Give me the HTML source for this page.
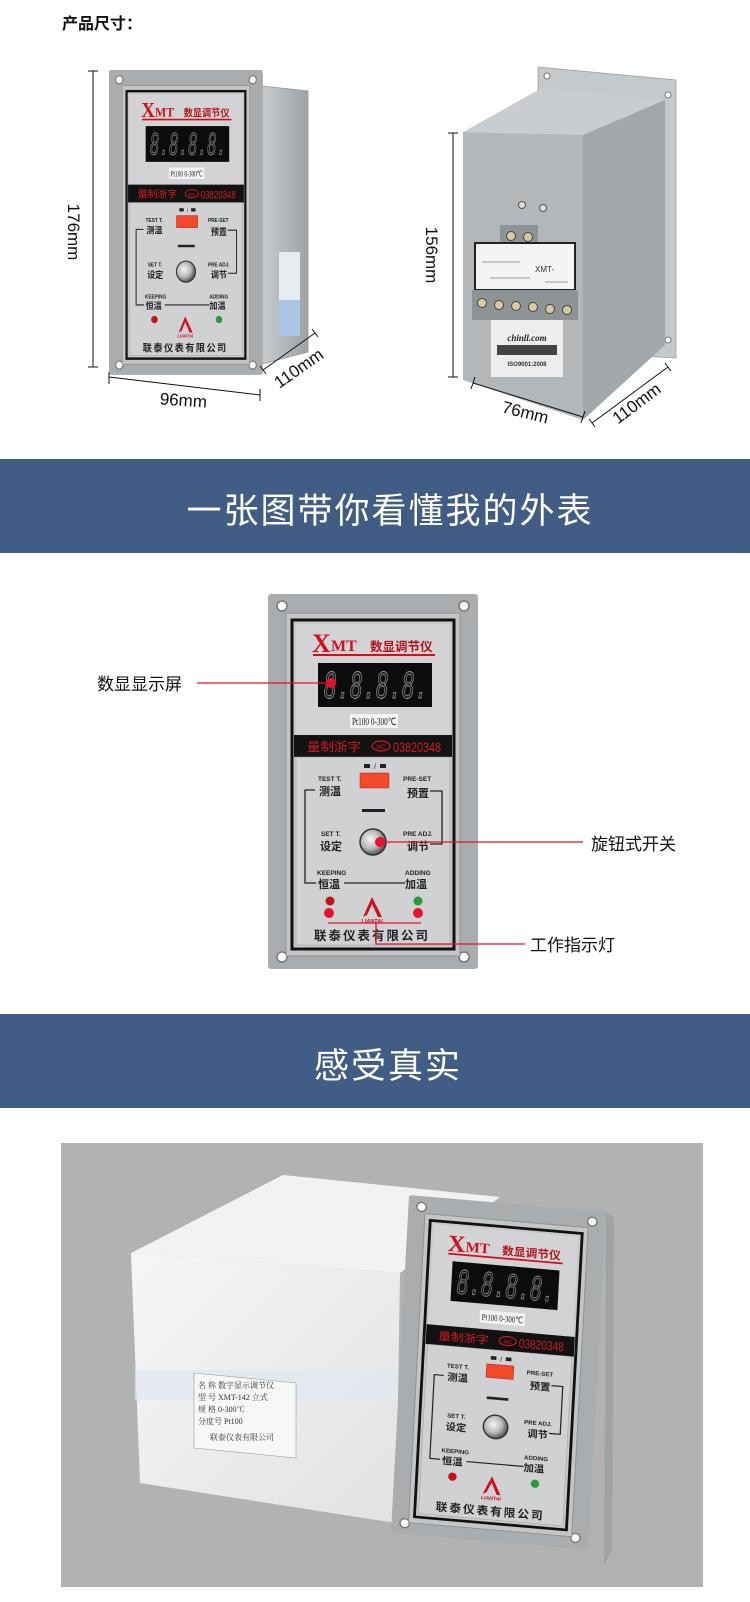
<!DOCTYPE html>
<html><head><meta charset="utf-8"><style>
html,body{margin:0;padding:0;background:#fff;}
svg{display:block;}
.cj{font-family:"Liberation Sans","Noto Sans CJK SC",sans-serif;}
</style></head><body>
<svg width="750" height="1602" viewBox="0 0 750 1602" xmlns="http://www.w3.org/2000/svg" class="cj">
<defs>
<radialGradient id="kn" cx="40%" cy="40%" r="60%"><stop offset="0" stop-color="#f4f4f4"/><stop offset="0.6" stop-color="#b8b8b8"/><stop offset="1" stop-color="#555"/></radialGradient>
<linearGradient id="sty" x1="0" y1="0" x2="1" y2="1"><stop offset="0" stop-color="#f6f6f6"/><stop offset="1" stop-color="#e2e2e2"/></linearGradient>
<linearGradient id="side" x1="0" y1="0" x2="1" y2="0"><stop offset="0" stop-color="#c9ccce"/><stop offset="1" stop-color="#9da2a5"/></linearGradient>
</defs>

<!-- header -->
<text x="62" y="29" font-size="16" font-weight="bold" fill="#111">产品尺寸：</text>

<!-- ===== LEFT DEVICE ===== -->
<polygon points="262,86 308,91 308,352 262,364" fill="url(#side)" stroke="#8f9497" stroke-width="0.8"/>
<rect x="279" y="252" width="21" height="84" fill="#e7ecf2"/>
<rect x="279" y="300" width="21" height="36" fill="#a9c6e6"/>
<g transform="translate(109,70) scale(0.733,0.813)">
<rect width="210" height="375" rx="3" fill="#a9adb0"/>
<circle cx="14" cy="12" r="5" fill="#fff" stroke="#777" stroke-width="1.5"/><circle cx="196" cy="12" r="5" fill="#fff" stroke="#777" stroke-width="1.5"/><circle cx="14" cy="363" r="5" fill="#fff" stroke="#777" stroke-width="1.5"/><circle cx="196" cy="363" r="5" fill="#fff" stroke="#777" stroke-width="1.5"/>
<rect x="18" y="19" width="174" height="343" fill="#c3c5c7" stroke="#8d9093"/>
<rect x="24" y="26" width="162" height="329" fill="#c8c9cb" stroke="#111" stroke-width="3"/>
<rect x="28" y="30" width="154" height="111" fill="#d3d3d5"/>
<text x="44" y="58" font-family="Liberation Serif,serif" font-size="26" font-weight="bold" fill="#d0101c">X</text>
<text x="63" y="57" font-family="Liberation Serif,serif" font-size="16" font-weight="bold" fill="#d0101c">MT</text>
<text x="102" y="57" font-size="12.5" font-weight="bold" fill="#b3121c">数显调节仪</text>
<line x1="45" y1="61" x2="167" y2="61" stroke="#d0101c" stroke-width="2"/>
<rect x="50" y="69" width="114" height="44" fill="#0c0c0c"/>
<text x="56" y="104" font-family="DejaVu Sans Mono,monospace" font-size="36" font-style="italic" fill="#1c1c1c" stroke="#9a9a9a" stroke-width="0.9" textLength="104" lengthAdjust="spacingAndGlyphs">8.8.8.8.</text>
<rect x="82" y="120" width="48" height="14" fill="#f4f4f4"/>
<text x="84" y="131" font-family="Liberation Serif,serif" font-size="10" fill="#222" textLength="44" lengthAdjust="spacingAndGlyphs">Pt100 0-300℃</text>
<rect x="26" y="141" width="158" height="22" fill="#121212"/>
<text x="39" y="157" font-size="12" fill="#d41a22" textLength="54" lengthAdjust="spacingAndGlyphs">量制浙字</text>
<ellipse cx="113" cy="152" rx="9" ry="5" fill="none" stroke="#d41a22" stroke-width="1.2"/>
<text x="113" y="155" font-size="6" fill="#d41a22" text-anchor="middle">MC</text>
<text x="125" y="158" font-size="14" fill="#d41a22" textLength="48" lengthAdjust="spacingAndGlyphs">03820348</text>
<rect x="28" y="163" width="154" height="188" fill="#d0d1d3" stroke="#999" stroke-width="0.5"/>
<rect x="96" y="170" width="6" height="4" fill="#222"/><text x="106" y="175" font-size="7" fill="#222">/</text><rect x="112" y="170" width="6" height="4" fill="#222"/>
<rect x="92" y="179" width="29" height="15" fill="#f3492b" stroke="#b02020" stroke-width="0.5"/>
<text x="50" y="187" font-size="6.5" font-weight="bold" fill="#222">TEST T.</text>
<text x="51" y="201" font-size="11" font-weight="bold" fill="#222">测温</text>
<text x="135" y="187" font-size="6.5" font-weight="bold" fill="#222">PRE-SET</text>
<text x="139" y="203" font-size="11" font-weight="bold" fill="#222">预置</text>
<path d="M47 196 H37 V289 H48 M162 197 H174 V250 H162 M76 289 H137" fill="none" stroke="#222" stroke-width="1.3"/>
<rect x="94" y="215" width="23" height="3" fill="#222"/>
<text x="53" y="242" font-size="6.5" font-weight="bold" fill="#222">SET T.</text>
<text x="52" y="256" font-size="11" font-weight="bold" fill="#222">设定</text>
<text x="135" y="242" font-size="6.5" font-weight="bold" fill="#222">PRE ADJ.</text>
<text x="139" y="256" font-size="11" font-weight="bold" fill="#222">调节</text>
<circle cx="105" cy="248" r="13" fill="url(#kn)" stroke="#333" stroke-width="1.5"/>
<text x="49" y="281" font-size="6.5" font-weight="bold" fill="#222">KEEPING</text>
<text x="50" y="294" font-size="11" font-weight="bold" fill="#222">恒温</text>
<text x="137" y="281" font-size="6.5" font-weight="bold" fill="#222">ADDING</text>
<text x="137" y="294" font-size="11" font-weight="bold" fill="#222">加温</text>
<circle cx="62" cy="307" r="4.5" fill="#c01515"/><circle cx="150" cy="307" r="4.5" fill="#2a9a3a"/>
<path d="M95 323 L104 303 L114 323 L110 323 L104 310 L99 321 Z" fill="#d0101c"/>
<text x="104" y="329" font-size="5.5" font-style="italic" font-weight="bold" fill="#d0101c" text-anchor="middle">LIANTAI</text>
<text x="104" y="346" font-size="12.5" font-weight="bold" fill="#222" text-anchor="middle" letter-spacing="2">联泰仪表有限公司</text>
</g>
<!-- left dims -->
<g stroke="#111" stroke-width="1" fill="none">
<path d="M93 71 V367 M88 71 H98 M88 367 H98"/>
<path d="M109 377 L260 395 M109 372 V384 M260 389 V401"/>
<path d="M263 370 L315 333 M260 366 L266 374 M312 329 L318 337"/>
</g>
<text transform="translate(68,232) rotate(90)" font-size="17" text-anchor="middle" fill="#111">176mm</text>
<text transform="translate(183,406) rotate(4)" font-size="17" text-anchor="middle" fill="#111">96mm</text>
<text transform="translate(302,373) rotate(-35)" font-size="17" text-anchor="middle" fill="#111">110mm</text>

<!-- ===== RIGHT DEVICE ===== -->
<polygon points="538,67 676,80 676,358 538,350" fill="#c6c9cb" stroke="#999" stroke-width="0.8"/>
<circle cx="547" cy="76" r="3" fill="#fff" stroke="#777"/><circle cx="668" cy="95" r="3" fill="#fff" stroke="#777"/><circle cx="668" cy="340" r="3" fill="#fff" stroke="#777"/>
<polygon points="463,132 542,88 665,100 583,135" fill="#c9cdcf"/>
<polygon points="583,135 665,100 665,345 583,420" fill="#a2a7aa"/>
<polygon points="463,132 583,135 583,420 463,380" fill="#b3b7ba"/>
<circle cx="522" cy="205" r="3.5" fill="#ddd" stroke="#555"/><circle cx="543" cy="208" r="3.5" fill="#ddd" stroke="#555"/>
<rect x="500" y="225" width="38" height="22" fill="#8e9396"/>
<circle cx="511" cy="236" r="4.5" fill="#d8c9a0" stroke="#444"/><circle cx="528" cy="237" r="4.5" fill="#d8c9a0" stroke="#444"/>
<rect x="475" y="243" width="100" height="47" fill="#f4f4f4" stroke="#222" stroke-width="2"/>
<text x="535" y="272" font-size="8" fill="#333">XMT-</text>
<path d="M482 262 H520 M490 278 H530 M545 282 H568" stroke="#777" stroke-width="0.7"/>
<rect x="472" y="290" width="106" height="30" fill="#8e9396"/>
<g fill="#d8c9a0" stroke="#444"><circle cx="482" cy="303" r="4.5"/><circle cx="499" cy="305" r="4.5"/><circle cx="516" cy="306" r="4.5"/><circle cx="533" cy="307" r="4.5"/><circle cx="550" cy="309" r="4.5"/><circle cx="567" cy="310" r="4.5"/></g>
<rect x="491" y="320" width="72" height="57" fill="#eeeeee"/>
<text x="527" y="341" font-family="Liberation Serif,serif" font-size="9" font-style="italic" font-weight="bold" fill="#222" text-anchor="middle">chinll.com</text>
<rect x="497" y="345" width="60" height="10" fill="#444"/>
<text x="527" y="366" font-size="6" font-weight="bold" fill="#333" text-anchor="middle">ISO9001:2008</text>
<g stroke="#111" stroke-width="1" fill="none">
<path d="M453 133 V377 M448 133 H458 M448 377 H458"/>
<path d="M473 383 L583 417 M475 377 L471 389 M585 411 L581 423"/>
<path d="M592 423 L668 367 M589 419 L595 427 M665 363 L671 371"/>
</g>
<text transform="translate(426,255) rotate(90)" font-size="17" text-anchor="middle" fill="#111">156mm</text>
<text transform="translate(524,418) rotate(14)" font-size="17" text-anchor="middle" fill="#111">76mm</text>
<text transform="translate(640,408) rotate(-37)" font-size="17" text-anchor="middle" fill="#111">110mm</text>

<!-- ===== BANNER 1 ===== -->
<rect x="0" y="459" width="750" height="94" fill="#415d85"/>
<text x="390" y="523" font-size="35" fill="#fff" text-anchor="middle" letter-spacing="2">一张图带你看懂我的外表</text>

<!-- ===== MIDDLE PANEL ===== -->
<g transform="translate(268,594)">
<rect width="210" height="375" rx="3" fill="#a9adb0"/>
<circle cx="14" cy="12" r="5" fill="#fff" stroke="#777" stroke-width="1.5"/><circle cx="196" cy="12" r="5" fill="#fff" stroke="#777" stroke-width="1.5"/><circle cx="14" cy="363" r="5" fill="#fff" stroke="#777" stroke-width="1.5"/><circle cx="196" cy="363" r="5" fill="#fff" stroke="#777" stroke-width="1.5"/>
<rect x="18" y="19" width="174" height="343" fill="#c3c5c7" stroke="#8d9093"/>
<rect x="24" y="26" width="162" height="329" fill="#c8c9cb" stroke="#111" stroke-width="3"/>
<rect x="28" y="30" width="154" height="111" fill="#d3d3d5"/>
<text x="44" y="58" font-family="Liberation Serif,serif" font-size="26" font-weight="bold" fill="#d0101c">X</text>
<text x="63" y="57" font-family="Liberation Serif,serif" font-size="16" font-weight="bold" fill="#d0101c">MT</text>
<text x="102" y="57" font-size="12.5" font-weight="bold" fill="#b3121c">数显调节仪</text>
<line x1="45" y1="61" x2="167" y2="61" stroke="#d0101c" stroke-width="2"/>
<rect x="50" y="69" width="114" height="44" fill="#0c0c0c"/>
<text x="56" y="104" font-family="DejaVu Sans Mono,monospace" font-size="36" font-style="italic" fill="#1c1c1c" stroke="#9a9a9a" stroke-width="0.9" textLength="104" lengthAdjust="spacingAndGlyphs">8.8.8.8.</text>
<rect x="82" y="120" width="48" height="14" fill="#f4f4f4"/>
<text x="84" y="131" font-family="Liberation Serif,serif" font-size="10" fill="#222" textLength="44" lengthAdjust="spacingAndGlyphs">Pt100 0-300℃</text>
<rect x="26" y="141" width="158" height="22" fill="#121212"/>
<text x="39" y="157" font-size="12" fill="#d41a22" textLength="54" lengthAdjust="spacingAndGlyphs">量制浙字</text>
<ellipse cx="113" cy="152" rx="9" ry="5" fill="none" stroke="#d41a22" stroke-width="1.2"/>
<text x="113" y="155" font-size="6" fill="#d41a22" text-anchor="middle">MC</text>
<text x="125" y="158" font-size="14" fill="#d41a22" textLength="48" lengthAdjust="spacingAndGlyphs">03820348</text>
<rect x="28" y="163" width="154" height="188" fill="#d0d1d3" stroke="#999" stroke-width="0.5"/>
<rect x="96" y="170" width="6" height="4" fill="#222"/><text x="106" y="175" font-size="7" fill="#222">/</text><rect x="112" y="170" width="6" height="4" fill="#222"/>
<rect x="92" y="179" width="29" height="15" fill="#f3492b" stroke="#b02020" stroke-width="0.5"/>
<text x="50" y="187" font-size="6.5" font-weight="bold" fill="#222">TEST T.</text>
<text x="51" y="201" font-size="11" font-weight="bold" fill="#222">测温</text>
<text x="135" y="187" font-size="6.5" font-weight="bold" fill="#222">PRE-SET</text>
<text x="139" y="203" font-size="11" font-weight="bold" fill="#222">预置</text>
<path d="M47 196 H37 V289 H48 M162 197 H174 V250 H162 M76 289 H137" fill="none" stroke="#222" stroke-width="1.3"/>
<rect x="94" y="215" width="23" height="3" fill="#222"/>
<text x="53" y="242" font-size="6.5" font-weight="bold" fill="#222">SET T.</text>
<text x="52" y="256" font-size="11" font-weight="bold" fill="#222">设定</text>
<text x="135" y="242" font-size="6.5" font-weight="bold" fill="#222">PRE ADJ.</text>
<text x="139" y="256" font-size="11" font-weight="bold" fill="#222">调节</text>
<circle cx="105" cy="248" r="13" fill="url(#kn)" stroke="#333" stroke-width="1.5"/>
<text x="49" y="281" font-size="6.5" font-weight="bold" fill="#222">KEEPING</text>
<text x="50" y="294" font-size="11" font-weight="bold" fill="#222">恒温</text>
<text x="137" y="281" font-size="6.5" font-weight="bold" fill="#222">ADDING</text>
<text x="137" y="294" font-size="11" font-weight="bold" fill="#222">加温</text>
<circle cx="62" cy="307" r="4.5" fill="#c01515"/><circle cx="150" cy="307" r="4.5" fill="#2a9a3a"/>
<path d="M95 323 L104 303 L114 323 L110 323 L104 310 L99 321 Z" fill="#d0101c"/>
<text x="104" y="329" font-size="5.5" font-style="italic" font-weight="bold" fill="#d0101c" text-anchor="middle">LIANTAI</text>
<text x="104" y="346" font-size="12.5" font-weight="bold" fill="#222" text-anchor="middle" letter-spacing="2">联泰仪表有限公司</text>
</g>
<!-- annotations -->
<g stroke="#e8112d" stroke-width="1.3" fill="none">
<path d="M197 683 H331"/>
<path d="M380 842 H583"/>
<path d="M328 923 H421 M376 923 V944 H525"/>
</g>
<g fill="#e8112d"><circle cx="331" cy="683" r="5"/><circle cx="380" cy="842" r="5"/><circle cx="329" cy="913" r="5"/><circle cx="418" cy="913" r="5"/></g>
<text x="97" y="690" font-size="17" fill="#111">数显显示屏</text>
<text x="591" y="850" font-size="17" fill="#111">旋钮式开关</text>
<text x="530" y="951" font-size="17" fill="#111">工作指示灯</text>

<!-- ===== BANNER 2 ===== -->
<rect x="0" y="1014" width="750" height="94" fill="#415d85"/>
<text x="388" y="1078" font-size="35" fill="#fff" text-anchor="middle" letter-spacing="2">感受真实</text>

<!-- ===== PHOTO ===== -->
<rect x="61" y="1143" width="642" height="444" fill="#b2b2b2"/>
<polygon points="131,1253 283,1175 500,1197 400,1273" fill="#f2f2f2"/>
<polygon points="131,1253 400,1273 396,1523 140,1483" fill="url(#sty)"/>
<rect x="135" y="1370" width="262" height="30" fill="#dfe8f1" opacity="0.7"/>
<polygon points="194,1373 296,1383 296,1458 194,1448" fill="#f7f7f7" stroke="#999" stroke-width="0.6"/>
<g font-family="Liberation Serif,'Noto Serif CJK SC',serif" font-size="8" fill="#333">
<text x="198" y="1388">名 称 数字显示调节仪</text>
<text x="198" y="1400">型 号 XMT-142 立式</text>
<text x="198" y="1412">规 格 0-300℃</text>
<text x="198" y="1424">分度号 Pt100</text>
<text x="210" y="1440">联泰仪表有限公司</text>
</g>
<polygon points="606,1212 614,1218 612,1550 604,1565" fill="#9ea3a6"/>
<g transform="matrix(0.938,0.081,-0.048,0.901,409,1195)">
<rect width="210" height="375" rx="3" fill="#a9adb0"/>
<circle cx="14" cy="12" r="5" fill="#fff" stroke="#777" stroke-width="1.5"/><circle cx="196" cy="12" r="5" fill="#fff" stroke="#777" stroke-width="1.5"/><circle cx="14" cy="363" r="5" fill="#fff" stroke="#777" stroke-width="1.5"/><circle cx="196" cy="363" r="5" fill="#fff" stroke="#777" stroke-width="1.5"/>
<rect x="18" y="19" width="174" height="343" fill="#c3c5c7" stroke="#8d9093"/>
<rect x="24" y="26" width="162" height="329" fill="#c8c9cb" stroke="#111" stroke-width="3"/>
<rect x="28" y="30" width="154" height="111" fill="#d3d3d5"/>
<text x="44" y="58" font-family="Liberation Serif,serif" font-size="26" font-weight="bold" fill="#d0101c">X</text>
<text x="63" y="57" font-family="Liberation Serif,serif" font-size="16" font-weight="bold" fill="#d0101c">MT</text>
<text x="102" y="57" font-size="12.5" font-weight="bold" fill="#b3121c">数显调节仪</text>
<line x1="45" y1="61" x2="167" y2="61" stroke="#d0101c" stroke-width="2"/>
<rect x="50" y="69" width="114" height="44" fill="#0c0c0c"/>
<text x="56" y="104" font-family="DejaVu Sans Mono,monospace" font-size="36" font-style="italic" fill="#1c1c1c" stroke="#9a9a9a" stroke-width="0.9" textLength="104" lengthAdjust="spacingAndGlyphs">8.8.8.8.</text>
<rect x="82" y="120" width="48" height="14" fill="#f4f4f4"/>
<text x="84" y="131" font-family="Liberation Serif,serif" font-size="10" fill="#222" textLength="44" lengthAdjust="spacingAndGlyphs">Pt100 0-300℃</text>
<rect x="26" y="141" width="158" height="22" fill="#121212"/>
<text x="39" y="157" font-size="12" fill="#d41a22" textLength="54" lengthAdjust="spacingAndGlyphs">量制浙字</text>
<ellipse cx="113" cy="152" rx="9" ry="5" fill="none" stroke="#d41a22" stroke-width="1.2"/>
<text x="113" y="155" font-size="6" fill="#d41a22" text-anchor="middle">MC</text>
<text x="125" y="158" font-size="14" fill="#d41a22" textLength="48" lengthAdjust="spacingAndGlyphs">03820348</text>
<rect x="28" y="163" width="154" height="188" fill="#d0d1d3" stroke="#999" stroke-width="0.5"/>
<rect x="96" y="170" width="6" height="4" fill="#222"/><text x="106" y="175" font-size="7" fill="#222">/</text><rect x="112" y="170" width="6" height="4" fill="#222"/>
<rect x="92" y="179" width="29" height="15" fill="#f3492b" stroke="#b02020" stroke-width="0.5"/>
<text x="50" y="187" font-size="6.5" font-weight="bold" fill="#222">TEST T.</text>
<text x="51" y="201" font-size="11" font-weight="bold" fill="#222">测温</text>
<text x="135" y="187" font-size="6.5" font-weight="bold" fill="#222">PRE-SET</text>
<text x="139" y="203" font-size="11" font-weight="bold" fill="#222">预置</text>
<path d="M47 196 H37 V289 H48 M162 197 H174 V250 H162 M76 289 H137" fill="none" stroke="#222" stroke-width="1.3"/>
<rect x="94" y="215" width="23" height="3" fill="#222"/>
<text x="53" y="242" font-size="6.5" font-weight="bold" fill="#222">SET T.</text>
<text x="52" y="256" font-size="11" font-weight="bold" fill="#222">设定</text>
<text x="135" y="242" font-size="6.5" font-weight="bold" fill="#222">PRE ADJ.</text>
<text x="139" y="256" font-size="11" font-weight="bold" fill="#222">调节</text>
<circle cx="105" cy="248" r="13" fill="url(#kn)" stroke="#333" stroke-width="1.5"/>
<text x="49" y="281" font-size="6.5" font-weight="bold" fill="#222">KEEPING</text>
<text x="50" y="294" font-size="11" font-weight="bold" fill="#222">恒温</text>
<text x="137" y="281" font-size="6.5" font-weight="bold" fill="#222">ADDING</text>
<text x="137" y="294" font-size="11" font-weight="bold" fill="#222">加温</text>
<circle cx="62" cy="307" r="4.5" fill="#c01515"/><circle cx="150" cy="307" r="4.5" fill="#2a9a3a"/>
<path d="M95 323 L104 303 L114 323 L110 323 L104 310 L99 321 Z" fill="#d0101c"/>
<text x="104" y="329" font-size="5.5" font-style="italic" font-weight="bold" fill="#d0101c" text-anchor="middle">LIANTAI</text>
<text x="104" y="346" font-size="12.5" font-weight="bold" fill="#222" text-anchor="middle" letter-spacing="2">联泰仪表有限公司</text>
</g>
</svg>
</body></html>
